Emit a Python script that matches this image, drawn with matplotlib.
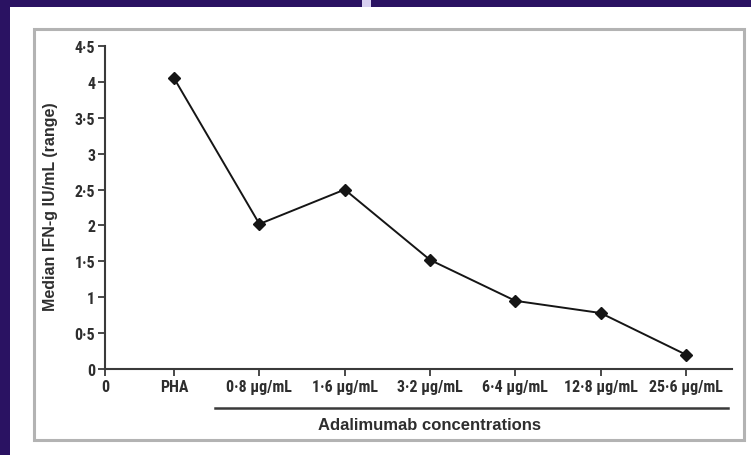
import matplotlib
matplotlib.use('Agg')
import matplotlib.pyplot as plt
from matplotlib.patches import Rectangle
from matplotlib.lines import Line2D

# Data
categories = ['PHA', '0·8 µg/mL', '1·6 µg/mL', '3·2 µg/mL', '6·4 µg/mL', '12·8 µg/mL', '25·6 µg/mL']
median_ifn = [4.05, 2.02, 2.5, 1.52, 0.95, 0.78, 0.2]
y_ticks = [0, 0.5, 1, 1.5, 2, 2.5, 3, 3.5, 4, 4.5]
y_tick_labels = ['0', '0·5', '1', '1·5', '2', '2·5', '3', '3·5', '4', '4·5']

W, H = 751, 456
narrow = ['Roboto Condensed', 'Liberation Sans', 'DejaVu Sans']
text_col = '#2e2e2e'

fig = plt.figure(figsize=(W / 100, H / 100), dpi=100)
fig.patch.set_facecolor('#2a1262')

def px(x0, y0, x1, y1):
    # pixel box (top-left origin) -> figure fraction rect
    return (x0 / W, 1 - y1 / H, (x1 - x0) / W, (y1 - y0) / H)

def add_box(box, **kw):
    l, b, w, h = px(*box)
    fig.patches.append(Rectangle((l, b), w, h, transform=fig.transFigure, **kw))

# slide background pieces
add_box((10, 8, W, H), facecolor='white', edgecolor='none', zorder=-3)
add_box((362, 0, 371, 8), facecolor='#d8d0f0', edgecolor='none', zorder=-3)
add_box((34, 30, 744, 441), facecolor='none', edgecolor='#b3b3b3', linewidth=2.2, zorder=-2)

# main axes
ax = fig.add_axes(px(105, 47, 732, 370))
ax.set_zorder(2)
ax.patch.set_alpha(0)
x = list(range(1, len(categories) + 1))
ax.plot(x, median_ifn, color='#151515', linewidth=1.4, marker='D', markersize=6.5,
        markerfacecolor='#151515', markeredgecolor='#151515', clip_on=False)

x0 = 0.19
ax.set_xlim(x0, 7.54)
ax.set_ylim(0, 4.5)
ax.set_yticks(y_ticks)
ax.set_yticklabels(y_tick_labels)
ax.set_xticks([x0] + x)
ax.set_xticklabels(['0'] + categories)

for s in ['top', 'right']:
    ax.spines[s].set_visible(False)
for s in ['left', 'bottom']:
    ax.spines[s].set_color('#3a3a3a')
    ax.spines[s].set_linewidth(1.5)
ax.tick_params(axis='both', direction='out', length=5, width=1.3, color='#3a3a3a',
               labelcolor=text_col, pad=2)
for lab in ax.get_xticklabels() + ax.get_yticklabels():
    lab.set_family(narrow)
    lab.set_fontweight('bold')
    lab.set_fontsize(11.5)

# y label
fig.text(50 / W, 1 - 207 / H, 'Median IFN-g IU/mL (range)', rotation=90, ha='center', va='center',
         fontsize=11.5, fontweight='bold', color=text_col, family=['Liberation Sans', 'DejaVu Sans'])

# group bracket under the concentration labels
fig.lines.append(Line2D([215 / W, 728 / W], [1 - 409 / H, 1 - 409 / H], transform=fig.transFigure,
                        color='#3a3a3a', linewidth=1.8))
fig.text(429 / W, 1 - 426 / H, 'Adalimumab concentrations', ha='center', va='center',
         fontsize=12, fontweight='bold', color=text_col, family=['Liberation Sans', 'DejaVu Sans'])

fig.savefig('out.png', dpi=100, facecolor=fig.get_facecolor())
